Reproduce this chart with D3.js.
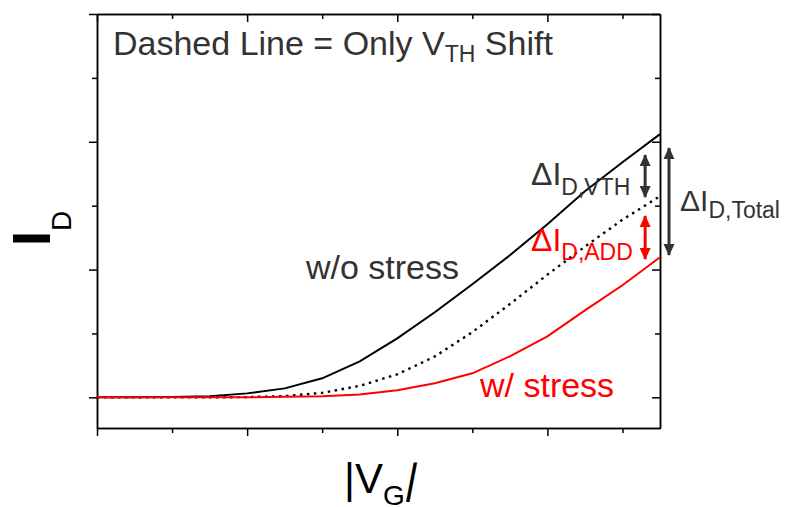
<!DOCTYPE html>
<html>
<head>
<meta charset="utf-8">
<script src="https://cdn.jsdelivr.net/npm/d3@7"></script>
<style>
  body { margin: 0; background: #fff; }
  text { font-family: "Liberation Sans", Arial, sans-serif; }
</style>
</head>
<body>
<svg id="chart" width="785" height="507"></svg>
<script>
// --- Data (arbitrary units)
const vg = [0, 0.25, 0.5, 0.75, 1, 1.25, 1.5, 1.75, 2, 2.25, 2.5, 2.75, 3, 3.25, 3.5, 3.75];
const idNoStress = [0, 0, 0.002, 0.008, 0.031, 0.070, 0.149, 0.282, 0.462, 0.666, 0.885, 1.112, 1.355, 1.613, 1.840, 2.060];
const idVthShift = [0, 0, 0, 0, 0.002, 0.010, 0.035, 0.090, 0.180, 0.320, 0.510, 0.730, 0.960, 1.180, 1.390, 1.574];
const idStress   = [0, 0, 0, 0, 0, 0.004, 0.008, 0.023, 0.055, 0.110, 0.188, 0.321, 0.477, 0.681, 0.877, 1.096];

const xMajor = [0, 1, 2, 3];
const xMinor = [0.5, 1.5, 2.5, 3.5];
const yMajor = [0, 1, 2, 3];
const yMinor = [0.5, 1.5, 2.5];

const svg = d3.select("#chart");
const margin = { left: 97, top: 14, right: 125, bottom: 79 };
const width = 785 - margin.left - margin.right;
const height = 507 - margin.top - margin.bottom;

const x = d3.scaleLinear().domain([0, 3.75]).range([margin.left, margin.left + width]);
const y = d3.scaleLinear().domain([-0.24, 3.0]).range([margin.top + height, margin.top]);

// --- Axes (frame with ticks on all four sides)
function drawAxis(axisFn, scale, transform, major, minor, inward) {
  const s = inward ? -1 : 1;
  [[major, 8], [minor, 5]].forEach(([vals, len]) => {
    svg.append("g")
      .attr("transform", transform)
      .call(axisFn(scale).tickValues(vals).tickSize(len * s).tickSizeOuter(0).tickFormat(""))
      .call(g => g.selectAll("path, line").attr("stroke", "#000").attr("stroke-width", 1.5));
  });
}
drawAxis(d3.axisBottom, x, `translate(0,${margin.top + height})`, xMajor, xMinor, false);
drawAxis(d3.axisTop, x, `translate(0,${margin.top})`, xMajor, xMinor, true);
drawAxis(d3.axisLeft, y, `translate(${margin.left},0)`, yMajor, yMinor, false);
drawAxis(d3.axisRight, y, `translate(${margin.left + width},0)`, yMajor, yMinor, true);

// --- Curves
const line = d3.line().x(d => x(d[0])).y(d => y(d[1]));
const series = [
  { vals: idNoStress, color: "#000", dash: null, w: 2 },
  { vals: idVthShift, color: "#000", dash: "2.5,4.5", w: 2.4 },
  { vals: idStress, color: "#ff0000", dash: null, w: 2 }
];
svg.selectAll(".curve")
  .data(series)
  .enter()
  .append("path")
  .attr("class", "curve")
  .attr("fill", "none")
  .attr("stroke", d => d.color)
  .attr("stroke-width", d => d.w)
  .attr("stroke-dasharray", d => d.dash)
  .attr("d", d => line(vg.map((v, i) => [v, d.vals[i]])));

// --- Arrow heads
const defs = svg.append("defs");
[["ahGray", "#333"], ["ahRed", "#ff0000"]].forEach(([id, c]) => {
  defs.append("marker")
    .attr("id", id)
    .attr("viewBox", "0 0 12 12")
    .attr("refX", 11).attr("refY", 6)
    .attr("markerWidth", 12).attr("markerHeight", 12)
    .attr("markerUnits", "userSpaceOnUse")
    .attr("orient", "auto-start-reverse")
    .append("path")
    .attr("d", "M0,0.5 L12,6 L0,11.5 Z")
    .attr("fill", c);
});

const arrows = [
  { x: 3.651, y0: 1.896, y1: 1.567, color: "#333", m: "ahGray" },
  { x: 3.651, y0: 1.419, y1: 1.082, color: "#ff0000", m: "ahRed" },
  { x: 3.81, y0: 1.951, y1: 1.114, color: "#333", m: "ahGray" }
];
svg.selectAll(".arrow")
  .data(arrows)
  .enter()
  .append("line")
  .attr("class", "arrow")
  .attr("x1", d => x(d.x)).attr("x2", d => x(d.x))
  .attr("y1", d => y(d.y0)).attr("y2", d => y(d.y1))
  .attr("stroke", d => d.color)
  .attr("stroke-width", 3)
  .attr("marker-start", d => `url(#${d.m})`)
  .attr("marker-end", d => `url(#${d.m})`);

// --- Labels
function subText(px, py, main, sub, color, size, subSize, dy) {
  const t = svg.append("text").attr("x", px).attr("y", py)
    .attr("fill", color).style("font-size", size + "px");
  t.append("tspan").text(main);
  t.append("tspan").attr("dy", dy).style("font-size", subSize + "px").text(sub);
  return t;
}

const title = svg.append("text").attr("x", 113).attr("y", 55)
  .attr("fill", "#333").style("font-size", "34px");
title.append("tspan").text("Dashed Line = Only V");
title.append("tspan").attr("dy", 7).style("font-size", "23px").text("TH");
title.append("tspan").attr("dy", -7).text(" Shift");

svg.append("text").attr("x", 306).attr("y", 279).attr("fill", "#333")
  .style("font-size", "34px").text("w/o stress");
svg.append("text").attr("x", 480).attr("y", 397).attr("fill", "#ff0000")
  .style("font-size", "34px").text("w/ stress");

subText(531, 185, "\u0394I", "D,VTH", "#333", 32, 23, 10);
subText(531, 251, "\u0394I", "D,ADD", "#ff0000", 32, 23, 9);
subText(680, 211, "\u0394I", "D,Total", "#333", 30, 23, 7);

// y label
const yl = svg.append("text").attr("transform", "translate(50,246) rotate(-90)").attr("fill", "#000");
yl.append("tspan").style("font-size", "54px").style("font-weight", "bold").text("I");
yl.append("tspan").attr("dy", 21).style("font-size", "28px").text("D");

// x label
const xl = svg.append("text").attr("x", 344).attr("y", 493).attr("fill", "#000").style("font-size", "42px");
xl.append("tspan").text("|V");
xl.append("tspan").attr("dy", 12).style("font-size", "28px").text("G");
svg.append("text").attr("transform", "translate(404,493) skewX(-11)")
  .attr("fill", "#000").style("font-size", "42px").text("|");
</script>
</body>
</html>
